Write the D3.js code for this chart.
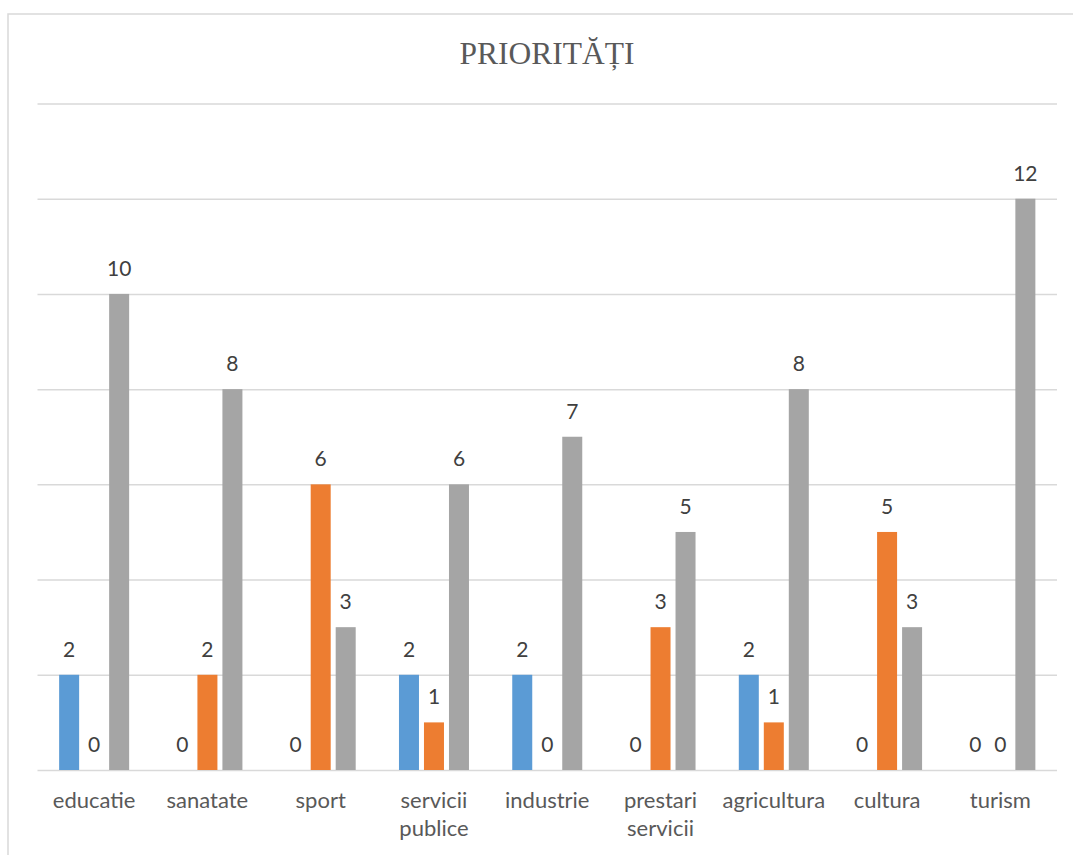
<!DOCTYPE html>
<html>
<head>
<meta charset="utf-8">
<script src="https://cdn.jsdelivr.net/npm/d3@7"></script>
<style>
  html, body { margin: 0; padding: 0; background: #fff; }
  svg { display: block; }
</style>
</head>
<body>
<svg id="chart" width="1073" height="855"></svg>
<script>
// Chart data
const categories = ["educatie", "sanatate", "sport", "servicii publice", "industrie",
                    "prestari servicii", "agricultura", "cultura", "turism"];
const seriesNames = ["serie1", "serie2", "serie3"];
const serie1 = [2, 0, 0, 2, 2, 0, 2, 0, 0];
const serie2 = [0, 2, 6, 1, 0, 3, 1, 5, 0];
const serie3 = [10, 8, 3, 6, 7, 5, 8, 3, 12];
const gridTicks = [0, 2, 4, 6, 8, 10, 12, 14];
const title = "PRIORITĂȚI";

const colors = { serie1: "#5B9BD5", serie2: "#ED7D31", serie3: "#A5A5A5" };
const values = { serie1, serie2, serie3 };

const svg = d3.select("#chart");
const W = 1073, H = 855;

// outer chart frame
svg.append("rect")
  .attr("x", 8).attr("y", 14)
  .attr("width", W + 20).attr("height", H + 20)
  .attr("fill", "#fff")
  .attr("stroke", "#D9D9D9").attr("stroke-width", 1.5);

svg.append("text")
  .attr("x", 547).attr("y", 64)
  .attr("text-anchor", "middle")
  .attr("font-family", "'Liberation Serif', 'Times New Roman', serif")
  .attr("font-size", 31.5)
  .attr("fill", "#595959")
  .text(title);

const plot = { left: 37.5, right: 1057, top: 103.5, bottom: 770 };

const x0 = d3.scaleBand().domain(categories).range([plot.left, plot.right]).padding(0);
const y = d3.scaleLinear().domain([0, 14]).range([plot.bottom, plot.top]);

// bars in a cluster: 20px wide, 5px apart, centred on the category
const clusterW = 70;
const x1 = d3.scaleBand().domain(seriesNames).range([0, clusterW]).paddingInner(0.2).paddingOuter(0);

// gridlines
const grid = svg.append("g")
  .attr("transform", `translate(${plot.left},0)`)
  .call(d3.axisLeft(y).tickValues(gridTicks).tickSize(-(plot.right - plot.left)).tickFormat(""));
grid.select(".domain").remove();
grid.selectAll(".tick line").attr("stroke", "#D9D9D9").attr("stroke-width", 1.5);

const rows = categories.map((c, i) => ({
  cat: c,
  items: seriesNames.map(s => ({ key: s, value: values[s][i] }))
}));

const groups = svg.append("g").selectAll("g")
  .data(rows).join("g")
  .attr("transform", d => `translate(${x0(d.cat) + x0.bandwidth() / 2 - clusterW / 2},0)`);

groups.selectAll("rect")
  .data(d => d.items).join("rect")
  .attr("x", d => x1(d.key))
  .attr("y", d => y(d.value))
  .attr("width", x1.bandwidth())
  .attr("height", d => y(0) - y(d.value))
  .attr("fill", d => colors[d.key]);

groups.selectAll("text")
  .data(d => d.items).join("text")
  .attr("x", d => x1(d.key) + x1.bandwidth() / 2)
  .attr("y", d => y(d.value) - 18)
  .attr("text-anchor", "middle")
  .attr("font-family", "Lato, 'Open Sans', sans-serif")
  .attr("font-size", 21)
  .attr("fill", "#404040")
  .text(d => d.value);

// category labels, two-word names broken onto two lines
const labels = svg.append("g").selectAll("text")
  .data(categories).join("text")
  .attr("x", d => x0(d) + x0.bandwidth() / 2)
  .attr("y", 808)
  .attr("text-anchor", "middle")
  .attr("font-family", "Lato, 'Open Sans', sans-serif")
  .attr("font-size", 22)
  .attr("fill", "#595959");

labels.each(function(d) {
  const words = d.split(" ");
  const t = d3.select(this);
  words.forEach((w, i) => {
    t.append("tspan")
      .attr("x", x0(d) + x0.bandwidth() / 2)
      .attr("dy", i === 0 ? 0 : 28)
      .text(w);
  });
});
</script>
</body>
</html>
